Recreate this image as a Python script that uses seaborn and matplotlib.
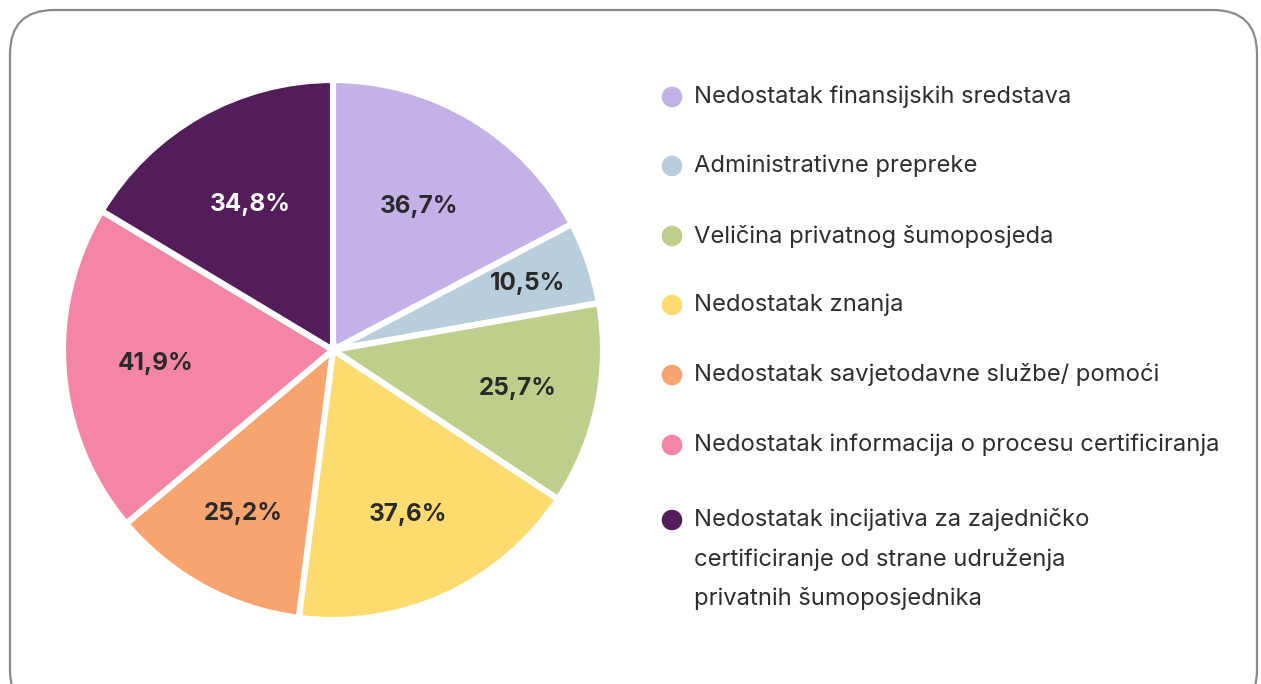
import numpy as np
import matplotlib.pyplot as plt
import seaborn as sns
from matplotlib.patches import FancyBboxPatch

categories = [
    "Nedostatak finansijskih sredstava",
    "Administrativne prepreke",
    "Veličina privatnog šumoposjeda",
    "Nedostatak znanja",
    "Nedostatak savjetodavne službe/ pomoći",
    "Nedostatak informacija o procesu certificiranja",
    "Nedostatak incijativa za zajedničko\ncertificiranje od strane udruženja\nprivatnih šumoposjednika",
]
values = [36.7, 10.5, 25.7, 37.6, 25.2, 41.9, 34.8]
colors = ["#C3B1E8", "#B8CEDC", "#BECF8B", "#FEDB6E", "#F7A46F", "#F585A7", "#531D59"]
label_colors = ["#2a2a2a"] * 6 + ["white"]
label_r = [0.62, 0.76, 0.70, 0.67, 0.69, 0.66, 0.62]

sns.set_theme(style="white")
plt.rcParams["font.family"] = ["Inter", "DejaVu Sans"]

fig = plt.figure(figsize=(12.61, 6.84), dpi=100)

# rounded card border
card = FancyBboxPatch((10 / 1261, -30 / 684), 1247 / 1261, 704 / 684,
                      boxstyle="round,pad=0,rounding_size=0.035",
                      transform=fig.transFigure, facecolor="none",
                      edgecolor="#8a8a8a", linewidth=1.6, mutation_aspect=1261 / 684,
                      zorder=-1)
fig.patches.append(card)

ax = fig.add_axes([63 / 1261, 64 / 684, 540 / 1261, 540 / 684])
ax.patch.set_visible(False)
wedges, _ = ax.pie(values, colors=colors, startangle=90, counterclock=False,
                   wedgeprops=dict(edgecolor="white", linewidth=4.4))
ax.set_xlim(-1, 1)
ax.set_ylim(-1, 1)

for w, v, c, r in zip(wedges, values, label_colors, label_r):
    ang = np.deg2rad((w.theta1 + w.theta2) / 2)
    ax.text(r * np.cos(ang), r * np.sin(ang), f"{v:.1f}%".replace(".", ","),
            ha="center", va="center", fontsize=17.5, fontweight="bold", color=c)

# legend drawn by hand so the marker sits on the first line
lax = fig.add_axes([0, 0, 1, 1])
lax.patch.set_visible(False)
lax.set_xlim(0, 1261)
lax.set_ylim(684, 0)
lax.axis("off")
row_y = [97, 166, 236, 305, 375, 445, 520]
for y, lab, col in zip(row_y, categories, colors):
    lax.scatter(672, y, s=220, color=col, edgecolor="none")
    lax.text(694, y - 12 if "\n" in lab else y, lab, ha="left",
             va="top" if "\n" in lab else "center", fontsize=17.1,
             color="#2e2e2e", linespacing=1.93)

fig.savefig("out.png", dpi=100)
